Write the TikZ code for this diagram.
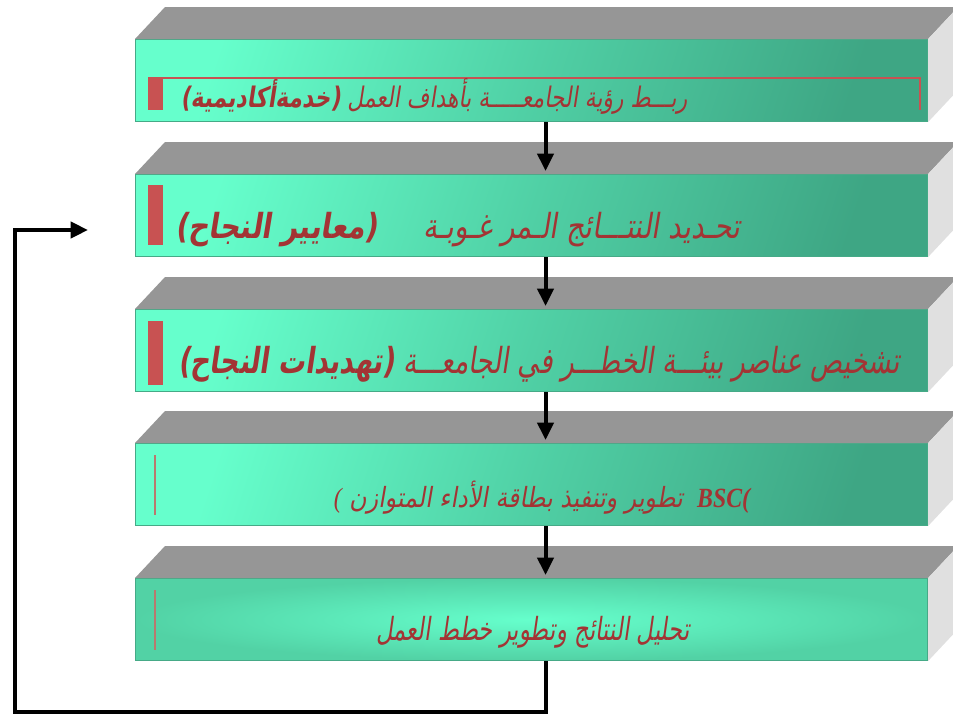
\documentclass[tikz,border=0pt]{standalone}
\usepackage{fontspec}
\usetikzlibrary{arrows.meta,calc}
\setmainfont{Liberation Serif}
\newfontfamily\arabicfont[Script=Arabic,FakeSlant=0.2]{DejaVu Sans}
\newfontfamily\parfont[FakeSlant=0.2]{DejaVu Sans}
\TeXXeTstate=1
\newcommand\AR[1]{{\beginR #1\endR}}
\newcommand\LP{{\parfont\bfseries(}}
\newcommand\RP{{\parfont\bfseries)}}
\definecolor{mintL}{RGB}{102,255,204}
\definecolor{mintM}{RGB}{80,208,165}
\definecolor{mintD}{RGB}{62,166,132}
\definecolor{mintO}{RGB}{82,210,165}
\definecolor{edgecol}{RGB}{70,170,135}
\definecolor{topgray}{RGB}{150,150,150}
\definecolor{sidegray}{RGB}{224,224,224}
\definecolor{txtred}{RGB}{163,52,52}
\definecolor{markred}{RGB}{200,82,82}
\definecolor{markline}{RGB}{185,120,110}
\begin{document}
\begin{tikzpicture}[x=0.75pt,y=-0.75pt,
  front/.style={rectangle, anchor=north west, inner sep=0pt,
    minimum width=594pt, minimum height=61.5pt, draw=edgecol, line width=0.8pt,
    left color=mintL, right color=mintD, middle color=mintM, shading angle=72},
  frontrad/.style={rectangle, anchor=north west, inner sep=0pt,
    minimum width=594pt, minimum height=61.5pt, draw=edgecol, line width=0.8pt,
    inner color=mintL, outer color=mintO},
  topface/.style={fill=topgray},
  sideface/.style={fill=sidegray},
  txt/.style={inner sep=0pt, text=txtred, font=\arabicfont},
  flow/.style={line width=3pt, -{Triangle[length=13pt,width=12pt]}}]
\useasboundingbox (0,0) rectangle (953,715);
\clip (0,0) rectangle (953,715);
% front faces
\node[front] (b1) at (135,39) {};
\node[front] (b2) at (135,174) {};
\node[front] (b3) at (135,309) {};
\node[front] (b4) at (135,443) {};
\node[frontrad] (b5) at (135,578) {};
% top and side faces
\foreach \b in {b1,b2,b3,b4,b5}{
  \fill[topface] (\b.north west) -- ++(30,-32) -- ($(\b.north east)+(30,-32)$) -- (\b.north east) -- cycle;
  \fill[sideface] (\b.north east) -- ++(30,-32) -- ($(\b.south east)+(30,-32)$) -- (\b.south east) -- cycle;
}
% red marks
\fill[markred] (148,78) rectangle (163,110);
\draw[markred, line width=1.1pt] (148,78) -- (920,78) -- (920,110);
\fill[markred] (148,185) rectangle (163,245);
\fill[markred] (148,321) rectangle (163,385);
\draw[markline, line width=1.3pt] (155,455) -- (155,515);
\draw[markline, line width=1.3pt] (155,590) -- (155,650);
% texts
\node[txt] (t1) at (434,96) {\resizebox*{380pt}{27pt}{\arabicfont\LP\AR{\bfseries خدمةأكاديمية}\RP\ \AR{ربـــط رؤية الجامعـــــة بأهداف العمل}}};
\node[txt] (t2) at (458,230) {\resizebox*{424pt}{26pt}{\arabicfont\LP\AR{\bfseries معايير النجاح}\RP\hspace{1.6em}\AR{تحـديد النتـــائج الـمر غـوبـة}}};
\node[txt] (t3) at (539,364) {\resizebox*{541pt}{27pt}{\arabicfont\LP\AR{\bfseries تهديدات النجاح}\RP\ \AR{تشخيص عناصر بيئـــة الخطـــر في الجامعـــة}}};
\node[txt] (t4) at (542,498) {\resizebox*{312pt}{25pt}{{\rmfamily\itshape(} \AR{تطوير وتنفيذ بطاقة الأداء المتوازن}\hspace{0.6em}{\rmfamily\bfseries\itshape BSC(}}};
\node[txt] (t5) at (533,632) {\resizebox*{235pt}{24pt}{\AR{تحليل النتائج وتطوير خطط العمل}}};
% connectors
\draw[flow] ($(b1.south)+(14,0)$) -- ($(b2.north)+(14,-3)$);
\draw[flow] ($(b2.south)+(14,0)$) -- ($(b3.north)+(14,-3)$);
\draw[flow] ($(b3.south)+(14,0)$) -- ($(b4.north)+(14,-3)$);
\draw[flow] ($(b4.south)+(14,0)$) -- ($(b5.north)+(14,-3)$);
\coordinate (loopin) at (88,230);
\draw[flow] ($(b5.south)+(14,0)$) |- (15,712) |- (loopin);
\end{tikzpicture}
\end{document}
